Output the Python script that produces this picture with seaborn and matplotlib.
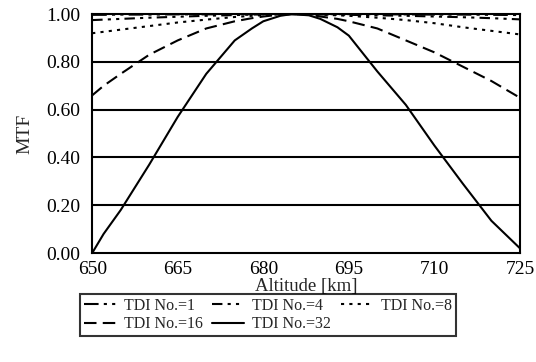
import numpy as np
import pandas as pd
import matplotlib
matplotlib.use("Agg")
import matplotlib.pyplot as plt
import seaborn as sns
from matplotlib.ticker import MultipleLocator, FormatStrFormatter

# 高度 [km] 与各TDI级数的MTF
altitude = [650, 652, 655, 660, 665, 670, 675, 678, 680, 683, 685, 688, 690, 693, 695, 700, 705, 710, 715, 720, 725]
mtf_tdi1 = [0.997, 0.997, 0.998, 0.998, 0.999, 0.999, 1.0, 1.0, 1.0, 1.0, 1.0, 1.0, 1.0, 1.0, 1.0, 0.999, 0.999, 0.998, 0.998, 0.997, 0.996]
mtf_tdi4 = [0.975, 0.977, 0.980, 0.985, 0.989, 0.993, 0.996, 0.998, 0.999, 1.0, 1.0, 1.0, 0.999, 0.998, 0.997, 0.995, 0.993, 0.990, 0.987, 0.983, 0.978]
mtf_tdi8 = [0.920, 0.926, 0.935, 0.950, 0.965, 0.977, 0.988, 0.993, 0.996, 0.999, 1.0, 1.0, 0.998, 0.995, 0.993, 0.985, 0.975, 0.962, 0.945, 0.930, 0.915]
mtf_tdi16 = [0.66, 0.70, 0.75, 0.83, 0.89, 0.94, 0.97, 0.983, 0.99, 0.998, 1.0, 0.998, 0.99, 0.98, 0.97, 0.94, 0.89, 0.84, 0.78, 0.72, 0.65]
mtf_tdi32 = [0.00, 0.08, 0.18, 0.37, 0.57, 0.75, 0.89, 0.94, 0.97, 0.993, 1.0, 0.995, 0.98, 0.945, 0.91, 0.76, 0.62, 0.45, 0.29, 0.135, 0.02]

labels = ['TDI No.=1', 'TDI No.=4', 'TDI No.=8', 'TDI No.=16', 'TDI No.=32']
series = [mtf_tdi1, mtf_tdi4, mtf_tdi8, mtf_tdi16, mtf_tdi32]
x_ticks = [650, 665, 680, 695, 710, 725]

df = pd.concat([pd.DataFrame({'Altitude': altitude, 'MTF': v, 'TDI': lab})
                for lab, v in zip(labels, series)], ignore_index=True)

sns.set_style("white")
plt.rcParams['font.family'] = ['Liberation Serif', 'DejaVu Serif']

dashes = {
    'TDI No.=1': (7, 2.5, 1.5, 2.5, 1.5, 2.5),
    'TDI No.=4': (5, 2.5, 1.5, 2.5, 1.5, 2.5),
    'TDI No.=8': (1.5, 2.5),
    'TDI No.=16': (6, 3),
    'TDI No.=32': '',
}

fig = plt.figure(figsize=(5.36, 3.62), dpi=100)
ax = fig.add_axes([0.172, 0.301, 0.798, 0.660])

sns.lineplot(data=df, x='Altitude', y='MTF', hue='TDI', style='TDI',
             palette=['black'] * 5, dashes=dashes, linewidth=1.5, ax=ax,
             legend=True)

# 水平网格线
for yv in [0.2, 0.4, 0.6, 0.8]:
    ax.axhline(yv, color='black', linewidth=1.5, zorder=0)

ax.set_xlim(650, 725)
ax.set_ylim(0, 1.0)
ax.set_xticks(x_ticks)
ax.set_xticks(np.arange(650, 726, 5), minor=True)
ax.yaxis.set_major_locator(MultipleLocator(0.2))
ax.yaxis.set_minor_locator(MultipleLocator(0.05))
ax.yaxis.set_major_formatter(FormatStrFormatter('%.2f'))
ax.tick_params(axis='both', which='major', direction='inout', length=6, width=1.2,
               labelsize=14, color='black', labelcolor='black')
ax.tick_params(axis='both', which='minor', direction='in', length=3, width=1.0, color='black')
ax.tick_params(axis='x', which='major', pad=3)
ax.tick_params(axis='y', which='major', pad=5.5)
for sp in ax.spines.values():
    sp.set_color('black')
    sp.set_linewidth(1.5)

ax.set_xlabel('Altitude [km]', fontsize=13.5, labelpad=0)
ax.set_ylabel('MTF', fontsize=14, labelpad=9)

# 图例按行排列: 第一行 1,4,8, 第二行 16,32
handles, labs = ax.get_legend_handles_labels()
ax.legend_.remove()
order = [0, 3, 1, 4, 2]
leg = fig.legend([handles[i] for i in order], [labs[i] for i in order],
                 loc='upper left', bbox_to_anchor=(0.149, 0.188),
                 ncol=3, fontsize=11.5, frameon=True, fancybox=False, edgecolor='black',
                 handlelength=2.0, handletextpad=0.5, columnspacing=0.6,
                 labelspacing=0.15, borderpad=0.25, borderaxespad=0)
leg.get_frame().set_linewidth(1.5)

fig.savefig('out.png', dpi=100)
